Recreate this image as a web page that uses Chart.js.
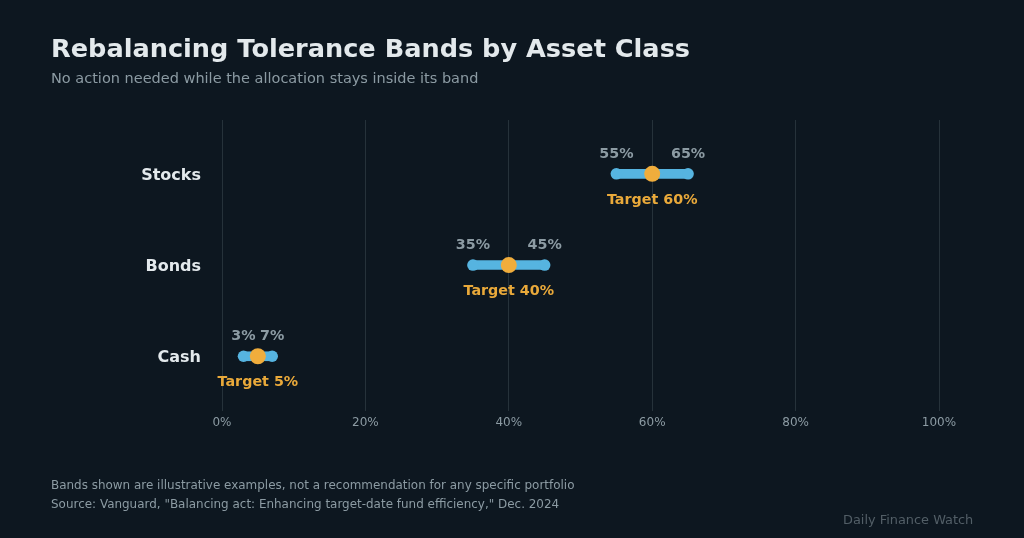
<!DOCTYPE html>
<html><head><meta charset="utf-8">
<script src="https://cdn.jsdelivr.net/npm/chart.js@4"></script>
<style>html,body{margin:0;padding:0;background:#0d1720;width:1024px;height:538px;overflow:hidden}
#w{position:relative;width:1024px;height:538px}
.t{position:absolute;white-space:nowrap;font-family:"DejaVu Sans",sans-serif}
canvas{position:absolute;left:0;top:0}</style></head>
<body><div id="w"><canvas id="c" width="1024" height="538"></canvas>
<div class="t" style="left:51px;top:33px;font-size:25.6px;font-weight:bold;color:#e3e9ec">Rebalancing Tolerance Bands by Asset Class</div>
<div class="t" style="left:51px;top:70px;font-size:14.5px;color:#8c9ba3">No action needed while the allocation stays inside its band</div>
<div class="t" style="left:51px;top:478px;font-size:11.96px;color:#8c9ba3">Bands shown are illustrative examples, not a recommendation for any specific portfolio</div>
<div class="t" style="left:51px;top:497px;font-size:11.96px;color:#8c9ba3">Source: Vanguard, "Balancing act: Enhancing target-date fund efficiency," Dec. 2024</div>
<div class="t" style="left:843px;top:512px;font-size:12.9px;color:#525e66">Daily Finance Watch</div>
</div>
<script>
const categories=["Stocks","Bonds","Cash"];
const lower=[55,35,3];
const upper=[65,45,7];
const target=[60,40,5];
const xTicks=[0,20,40,60,80,100];
const labelPlugin={id:'labels',afterDatasetsDraw(ch){
 const {ctx,scales:{x,y}}=ch;ctx.save();ctx.textAlign='center';ctx.textBaseline='middle';
 ctx.font='bold 14.3px "DejaVu Sans"';
 categories.forEach((c,i)=>{const py=y.getPixelForValue(i);
  ctx.fillStyle='#8c9ba3';
  ctx.fillText(lower[i]+'%',x.getPixelForValue(lower[i]),py-20);
  ctx.fillText(upper[i]+'%',x.getPixelForValue(upper[i]),py-20);
  ctx.fillStyle='#e9a93a';
  ctx.fillText('Target '+target[i]+'%',x.getPixelForValue(target[i]),py+26);
 });ctx.restore();}};
new Chart(document.getElementById('c'),{
 data:{labels:categories,datasets:[
  {type:'scatter',data:target.map((v,i)=>({x:v,y:i})),pointRadius:8,pointHoverRadius:8,backgroundColor:'#f0ad3c',borderWidth:0,order:0},
  {type:'scatter',data:lower.map((v,i)=>({x:v,y:i})),pointRadius:5.8,backgroundColor:'#56b4e0',borderWidth:0,order:1},
  {type:'scatter',data:upper.map((v,i)=>({x:v,y:i})),pointRadius:5.8,backgroundColor:'#56b4e0',borderWidth:0,order:1},
  {type:'bar',data:categories.map((c,i)=>({x:[lower[i],upper[i]],y:i})),backgroundColor:'#56b4e0',barThickness:9,borderWidth:0,order:2}
 ]},
 options:{responsive:false,animation:false,indexAxis:'y',
  layout:{padding:{left:0,top:120,right:85,bottom:100}},
  plugins:{legend:{display:false},tooltip:{enabled:false}},
  scales:{
   x:{type:'linear',min:0,max:100,afterFit(a){a.height=27},
    afterBuildTicks(a){a.ticks=xTicks.map(v=>({value:v}))},
    grid:{color:'#26323a',drawTicks:false,lineWidth:1},border:{display:false},
    ticks:{callback:v=>v+'%',color:'#8c9ba3',font:{size:12,family:'"DejaVu Sans"'},padding:5}},
   y:{type:'linear',offset:false,min:-0.59,max:2.6,reverse:true,afterFit(a){a.width=222},
    afterBuildTicks(a){a.ticks=categories.map((c,i)=>({value:i}))},
    grid:{display:false,offset:false},border:{display:false},
    ticks:{callback:v=>categories[v],color:'#e3e9ec',font:{size:16,weight:'bold',family:'"DejaVu Sans"'},padding:13,labelOffset:2}}
  }},
 plugins:[labelPlugin]
});
</script></body></html>
